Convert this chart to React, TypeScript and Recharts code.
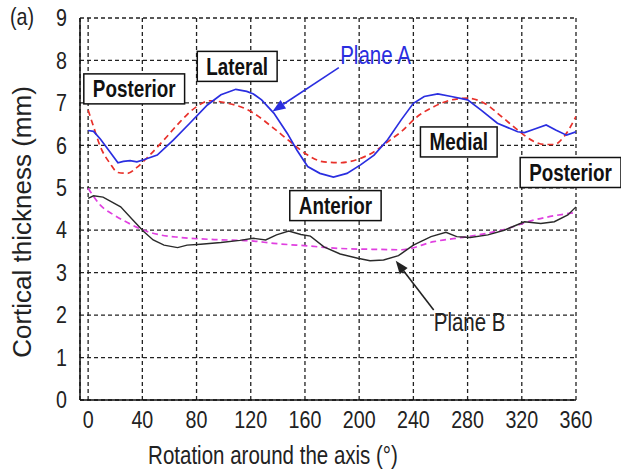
import React from 'react';
import { LineChart, Line, XAxis, YAxis, CartesianGrid, ReferenceDot, ReferenceLine } from 'recharts';

// angles (deg) and cortical thickness (mm)
const ANGLE_A = [0, 4, 9, 16, 22, 26, 31, 36, 41, 51, 63, 75, 88, 98, 109, 117, 122, 128, 137, 147, 154, 162, 171, 181, 191, 201, 211, 221, 231, 240, 248, 258, 268, 280, 290, 302, 317, 322, 329, 338, 345, 353, 360];
const PLANE_A = [6.35, 6.33, 6.15, 5.85, 5.59, 5.62, 5.64, 5.61, 5.66, 5.77, 6.13, 6.52, 6.95, 7.19, 7.32, 7.27, 7.21, 7.07, 6.76, 6.28, 5.89, 5.5, 5.34, 5.25, 5.34, 5.54, 5.77, 6.13, 6.6, 6.99, 7.15, 7.21, 7.15, 7.07, 6.83, 6.52, 6.32, 6.3, 6.38, 6.48, 6.36, 6.24, 6.32];

const ANGLE_A_FIT = [0, 4, 9, 16, 22, 29, 36, 43, 56, 68, 80, 90, 103, 117, 122, 137, 149, 162, 174, 186, 199, 211, 223, 231, 243, 255, 268, 280, 292, 305, 317, 329, 337, 344, 351, 360];
const PLANE_A_FIT = [6.83, 6.44, 5.97, 5.58, 5.36, 5.34, 5.48, 5.69, 6.13, 6.56, 6.91, 7.05, 6.99, 6.85, 6.76, 6.4, 6.09, 5.77, 5.61, 5.59, 5.67, 5.85, 6.13, 6.32, 6.68, 6.91, 7.07, 7.11, 7.0, 6.68, 6.36, 6.09, 6.02, 6.02, 6.2, 6.68];

const ANGLE_B = [0, 4, 11, 24, 33, 41, 48, 56, 66, 73, 83, 98, 112, 122, 131, 139, 148, 157, 164, 174, 186, 199, 208, 218, 229, 240, 253, 264, 272, 282, 295, 307, 322, 334, 344, 354, 360];
const PLANE_B = [4.75, 4.81, 4.78, 4.55, 4.24, 3.97, 3.77, 3.65, 3.59, 3.65, 3.67, 3.71, 3.76, 3.81, 3.77, 3.89, 3.98, 3.9, 3.86, 3.61, 3.44, 3.34, 3.28, 3.3, 3.4, 3.65, 3.85, 3.95, 3.85, 3.83, 3.89, 4.0, 4.2, 4.16, 4.2, 4.36, 4.55];

const ANGLE_B_FIT = [0, 9, 19, 29, 41, 53, 68, 93, 120, 137, 162, 186, 211, 231, 255, 280, 305, 329, 360];
const PLANE_B_FIT = [4.99, 4.59, 4.36, 4.18, 4.0, 3.89, 3.83, 3.78, 3.75, 3.69, 3.63, 3.57, 3.55, 3.54, 3.73, 3.85, 4.0, 4.24, 4.42];

const X_TICKS = [0, 40, 80, 120, 160, 200, 240, 280, 320, 360];
const Y_TICKS = [0, 1, 2, 3, 4, 5, 6, 7, 8, 9];

// region labels: text, angle, thickness (box centre)
const REGIONS = [
  { text: 'Posterior', x: 34, y: 7.33 },
  { text: 'Lateral', x: 110, y: 7.86 },
  { text: 'Medial', x: 273.5, y: 6.08 },
  { text: 'Anterior', x: 182.5, y: 4.58 },
  { text: 'Posterior', x: 356, y: 5.36 },
];

const zip = (xs: number[], ys: number[]) => xs.map((x, i) => ({ x, y: ys[i] }));

const FONT = '"Liberation Sans", Arial, sans-serif';
const TEXT = '#222';
const SQUEEZE = 0.82; // the original figure is horizontally compressed

let ctx: CanvasRenderingContext2D | null = null;
const measure = (s: string, font: string) => {
  if (!ctx) ctx = document.createElement('canvas').getContext('2d');
  if (!ctx) return s.length * 10;
  ctx.font = font;
  return ctx.measureText(s).width;
};

// narrow text: draws at (x, y) squeezed horizontally
const NText = ({ x, y, size, anchor = 'start', bold = false, fill = TEXT, baseline, dy, children }: any) => (
  <g transform={`translate(${x},${y}) scale(${SQUEEZE},1)`}>
    <text x={0} y={0} dy={dy} textAnchor={anchor} dominantBaseline={baseline} fontFamily={FONT} fontSize={size} fontWeight={bold ? 'bold' : 'normal'} fill={fill}>
      {children}
    </text>
  </g>
);

const XTick = (props: any) => (
  <NText x={props.x} y={props.y} size={24} anchor="middle" dy="0.71em">{props.payload.value}</NText>
);
const YTick = (props: any) => (
  <NText x={props.x} y={props.y} size={24} anchor="end" baseline="central">{props.payload.value}</NText>
);

const RegionBox = (text: string) => (props: any) => {
  const { cx, cy } = props;
  const w = measure(text, `bold 23px ${FONT}`) * SQUEEZE + 18;
  const h = 30;
  return (
    <g>
      <rect x={cx - w / 2} y={cy - h / 2} width={w} height={h} fill="#fff" stroke="#111" strokeWidth={1.5} />
      <NText x={cx} y={cy} size={23} anchor="middle" baseline="central" bold fill="#111">{text}</NText>
    </g>
  );
};

const Arrow = (color: string) => (props: any) => {
  const { x1, y1, x2, y2 } = props;
  const a = Math.atan2(y2 - y1, x2 - x1);
  const L = 13;
  const W = 5;
  const bx = x2 - L * Math.cos(a);
  const by = y2 - L * Math.sin(a);
  const p1 = `${bx + W * Math.sin(a)},${by - W * Math.cos(a)}`;
  const p2 = `${bx - W * Math.sin(a)},${by + W * Math.cos(a)}`;
  return (
    <g>
      <line x1={x1} y1={y1} x2={bx} y2={by} stroke={color} strokeWidth={1.6} />
      <polygon points={`${x2},${y2} ${p1} ${p2}`} fill={color} />
    </g>
  );
};

const PlaneTag = (text: string, color: string) => (props: any) => (
  <NText x={props.cx} y={props.cy} size={25} baseline="central" fill={color}>{text}</NText>
);

export default function App() {
  return (
    <div style={{ position: 'absolute', left: 0, top: 0 }}>
      <LineChart width={621} height={473} margin={{ top: 18, right: 45, bottom: 0, left: 20 }}>
        <CartesianGrid stroke="#222" strokeWidth={1.3} strokeDasharray="4 3" />
        <XAxis
          dataKey="x"
          type="number"
          domain={[-6, 360]}
          ticks={X_TICKS}
          allowDataOverflow
          height={73}
          stroke="#111"
          strokeWidth={1.5}
          tickLine={false}
          tickSize={0}
          tickMargin={11}
          tick={XTick}
        />
        <YAxis
          type="number"
          domain={[0, 9]}
          ticks={Y_TICKS}
          allowDataOverflow
          width={60}
          stroke="#111"
          strokeWidth={1.5}
          tickLine={false}
          tickSize={0}
          tickMargin={13}
          tick={YTick}
        />
        <Line data={zip(ANGLE_A_FIT, PLANE_A_FIT)} dataKey="y" type="monotone" stroke="#e8302a" strokeWidth={1.7} strokeDasharray="6 4" dot={false} isAnimationActive={false} />
        <Line data={zip(ANGLE_A, PLANE_A)} dataKey="y" type="linear" stroke="#2a2ee0" strokeWidth={1.7} dot={false} isAnimationActive={false} />
        <Line data={zip(ANGLE_B_FIT, PLANE_B_FIT)} dataKey="y" type="monotone" stroke="#e040e0" strokeWidth={1.7} strokeDasharray="6 4" dot={false} isAnimationActive={false} />
        <Line data={zip(ANGLE_B, PLANE_B)} dataKey="y" type="linear" stroke="#2a2a2a" strokeWidth={1.4} dot={false} isAnimationActive={false} />

        {REGIONS.map((r, i) => (
          <ReferenceDot key={i} x={r.x} y={r.y} r={0} ifOverflow="visible" shape={RegionBox(r.text)} />
        ))}

        <ReferenceLine segment={[{ x: 185, y: 7.83 }, { x: 136, y: 6.8 }]} ifOverflow="visible" shape={Arrow('#2a2ee0')} />
        <ReferenceDot x={186} y={8.13} r={0} ifOverflow="visible" shape={PlaneTag('Plane A', '#2a2ee0')} />
        <ReferenceLine segment={[{ x: 255, y: 2.12 }, { x: 227, y: 3.28 }]} ifOverflow="visible" shape={Arrow('#222')} />
        <ReferenceDot x={255} y={1.83} r={0} ifOverflow="visible" shape={PlaneTag('Plane B', '#222')} />

        <NText x={10} y={25} size={24}>(a)</NText>
        <NText x={273} y={464} size={25} anchor="middle">Rotation around the axis (°)</NText>
        <text x={31} y={222} transform="rotate(-90, 31, 222)" textAnchor="middle" fontFamily={FONT} fontSize={26} fill={TEXT}>
          Cortical thickness (mm)
        </text>
      </LineChart>
    </div>
  );
}
